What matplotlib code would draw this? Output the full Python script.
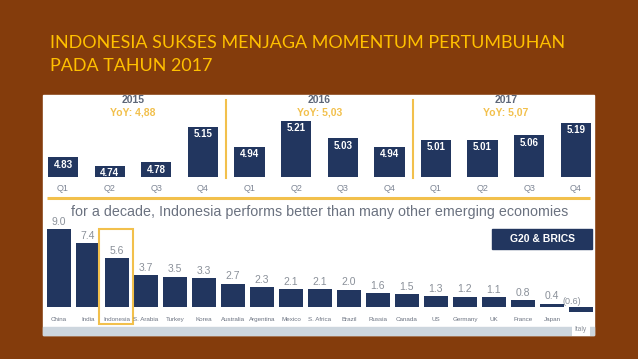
import matplotlib.pyplot as plt
from matplotlib.patches import Rectangle

W, H = 638, 359

title_lines = ["INDONESIA SUKSES MENJAGA MOMENTUM PERTUMBUHAN", "PADA TAHUN 2017"]
years = ["2015", "2016", "2017"]
yoy = ["YoY: 4,88", "YoY: 5,03", "YoY: 5,07"]
quarters = ["Q1", "Q2", "Q3", "Q4"] * 3
gdp_q = [4.83, 4.74, 4.78, 5.15, 4.94, 5.21, 5.03, 4.94, 5.01, 5.01, 5.06, 5.19]

subtitle = "for a decade, Indonesia performs better than many other emerging economies"
countries = ["China", "India", "Indonesia", "S. Arabia", "Turkey", "Korea", "Australia",
             "Argentina", "Mexico", "S. Africa", "Brazil", "Russia", "Canada", "US",
             "Germany", "UK", "France", "Japan", "Italy"]
growth = [9.0, 7.4, 5.6, 3.7, 3.5, 3.3, 2.7, 2.3, 2.1, 2.1, 2.0, 1.6, 1.5, 1.3,
          1.2, 1.1, 0.8, 0.4, -0.6]

BROWN = "#843c0c"
NAVY = "#22365f"
GOLD = "#f2c04c"
GREY = "#8a9099"

fig = plt.figure(figsize=(6.38, 3.59), dpi=100)
fig.patch.set_facecolor(BROWN)

# overlay in pixel units for the panel decorations
bg = fig.add_axes([0, 0, 1, 1])
bg.set_xlim(0, W)
bg.set_ylim(H, 0)
bg.axis("off")


def px_axes(x0, y0, x1, y1):
    ax = fig.add_axes([x0 / W, 1 - y1 / H, (x1 - x0) / W, (y1 - y0) / H])
    ax.patch.set_alpha(0)
    ax.axis("off")
    return ax


# title
for k, line in enumerate(title_lines):
    bg.text(50, 48 + 23 * k, line, color="#ffc000", fontsize=12.9, family="Lato",
            va="baseline")

# white panel
bg.add_patch(Rectangle((43, 95), 551, 240, color="white"))
bg.add_patch(Rectangle((43, 327), 551, 8, color="#cdd6de"))
bg.plot([47, 590], [198, 198], color=GOLD, lw=2.2, solid_capstyle="butt")

## quarterly GDP growth
base = 4.625
ax1 = px_axes(43, 95, 594, 177)
ax1.set_xlim(-0.43, 11.39)
ax1.set_ylim(base, base + 82 / 96)
x = range(len(gdp_q))
ax1.bar(x, [v - base for v in gdp_q], bottom=base, width=0.65, color=NAVY)
for i, v in enumerate(gdp_q):
    ax1.text(i, v - 0.025, f"{v:.2f}", ha="center", va="top", color="white",
             fontsize=7, fontweight="bold", family="Liberation Sans")
    ax1.text(i, base - 14 / 96, quarters[i], ha="center", va="baseline", color="#7d8594",
             fontsize=6.5, family="Liberation Sans", clip_on=False)
for k in range(3):
    ax1.text(1.5 + 4 * k, base + 77 / 96, years[k], ha="center", va="center",
             color="#5d6678", fontsize=7.5, fontweight="bold", family="Liberation Sans")
    ax1.text(1.5 + 4 * k, base + 65 / 96, yoy[k], ha="center", va="center",
             color=GOLD, fontsize=7.5, fontweight="bold", family="Liberation Sans")
for k in range(2):
    ax1.axvline(3.5 + 4 * k, ymin=-0.01, ymax=0.94, color=GOLD, lw=1.5, clip_on=False)

## decade average growth
scale = 8.67
ax2 = px_axes(43, 220, 594, 320)
ax2.set_xlim(-0.55, 18.45)
ax2.set_ylim(-13 / scale, 87 / scale)
x2 = range(len(growth))
ax2.bar(x2, growth, width=0.8, color=NAVY)
for i, v in enumerate(growth):
    if v >= 0:
        ax2.text(i, v + 0.25, f"{v:.1f}", ha="center", va="bottom", color=GREY,
                 fontsize=7.5, family="Liberation Sans")
    else:
        ax2.text(i - 0.3, 0.15, f"({-v:.1f})", ha="center", va="bottom", color=GREY,
                 fontsize=6.5, family="Liberation Sans")
    if countries[i] == "Italy":
        ax2.text(i, -24 / scale, countries[i], ha="center", va="baseline", color=GREY,
                 fontsize=4.8, family="Liberation Sans", clip_on=False,
                 bbox=dict(facecolor="white", edgecolor="none", pad=2))
    else:
        ax2.text(i, -14 / scale, countries[i], ha="center", va="baseline", color="#6d7482",
                 fontsize=4.5, family="Liberation Sans", clip_on=False)

idx = countries.index("Indonesia")
ax2.add_patch(Rectangle((idx - 0.62, -17 / scale), 1.17, 95 / scale, fill=False,
                        edgecolor=GOLD, lw=1.5, clip_on=False))

bg.text(320, 212, subtitle, ha="center", va="center", color="#6b7280", fontsize=10.3,
        family="Liberation Sans")
bg.add_patch(Rectangle((492, 229), 100, 20, color=NAVY))
bg.text(542, 239, "G20 & BRICS", ha="center", va="center", color="white", fontsize=7.5,
        fontweight="bold", family="Liberation Sans")

plt.savefig("out.png", dpi=100, facecolor=fig.get_facecolor())
